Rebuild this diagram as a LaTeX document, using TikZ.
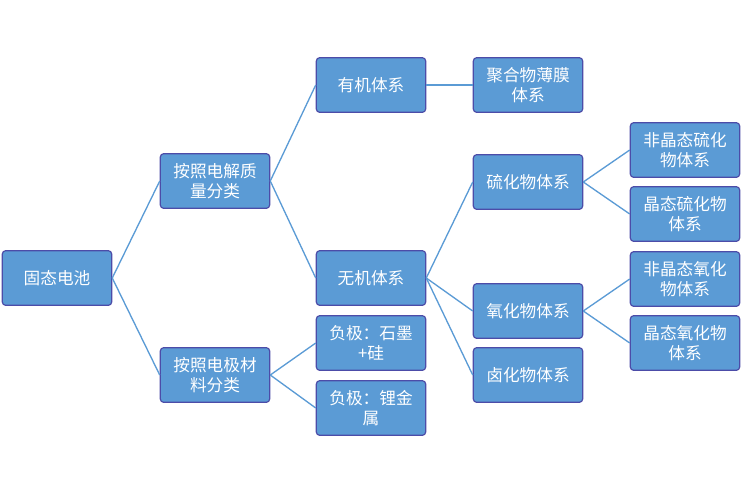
\documentclass[tikz,border=0pt]{standalone}
\usepackage{fontspec}
\newfontfamily\cjk{Noto Sans CJK SC}
\begin{document}
\begin{tikzpicture}[x=0.75pt,y=-0.75pt,
  box/.style={draw=black!10!blue!40!gray, line width=0.9pt, fill={rgb,255:red,91;green,155;blue,213}, text=white, rounded corners=2.5pt, minimum width=82pt, minimum height=41pt, align=center, font=\cjk\fontsize{12.5}{15}\selectfont, inner sep=1pt},
  ln/.style={draw={rgb,255:red,91;green,155;blue,213}, line width=1pt}]
\useasboundingbox (0,0) rectangle (750,494);
\node[box] (a) at (57,278) {固态电池};
\node[box] (b1) at (215,181) {按照电解质\\量分类};
\node[box] (b2) at (215,375) {按照电极材\\料分类};
\node[box] (c1) at (371,85) {有机体系};
\node[box] (c2) at (371,278) {无机体系};
\node[box] (c3) at (371,343) {负极：石墨\\+硅};
\node[box] (c4) at (371,408) {负极：锂金\\属};
\node[box] (d1) at (528,85) {聚合物薄膜\\体系};
\node[box] (d2) at (528,182) {硫化物体系};
\node[box] (d3) at (528,311) {氧化物体系};
\node[box] (d4) at (528,375) {卤化物体系};
\node[box] (e1) at (685,150) {非晶态硫化\\物体系};
\node[box] (e2) at (685,214) {晶态硫化物\\体系};
\node[box] (e3) at (685,279) {非晶态氧化\\物体系};
\node[box] (e4) at (685,343) {晶态氧化物\\体系};
\draw[ln] (a.east) -- (b1.west); \draw[ln] (a.east) -- (b2.west);
\draw[ln] (b1.east) -- (c1.west); \draw[ln] (b1.east) -- (c2.west);
\draw[ln] (b2.east) -- (c3.west); \draw[ln] (b2.east) -- (c4.west);
\draw[ln] (c1.east) -- (d1.west);
\draw[ln] (c2.east) -- (d2.west); \draw[ln] (c2.east) -- (d3.west); \draw[ln] (c2.east) -- (d4.west);
\draw[ln] (d2.east) -- (e1.west); \draw[ln] (d2.east) -- (e2.west);
\draw[ln] (d3.east) -- (e3.west); \draw[ln] (d3.east) -- (e4.west);
\end{tikzpicture}
\end{document}
